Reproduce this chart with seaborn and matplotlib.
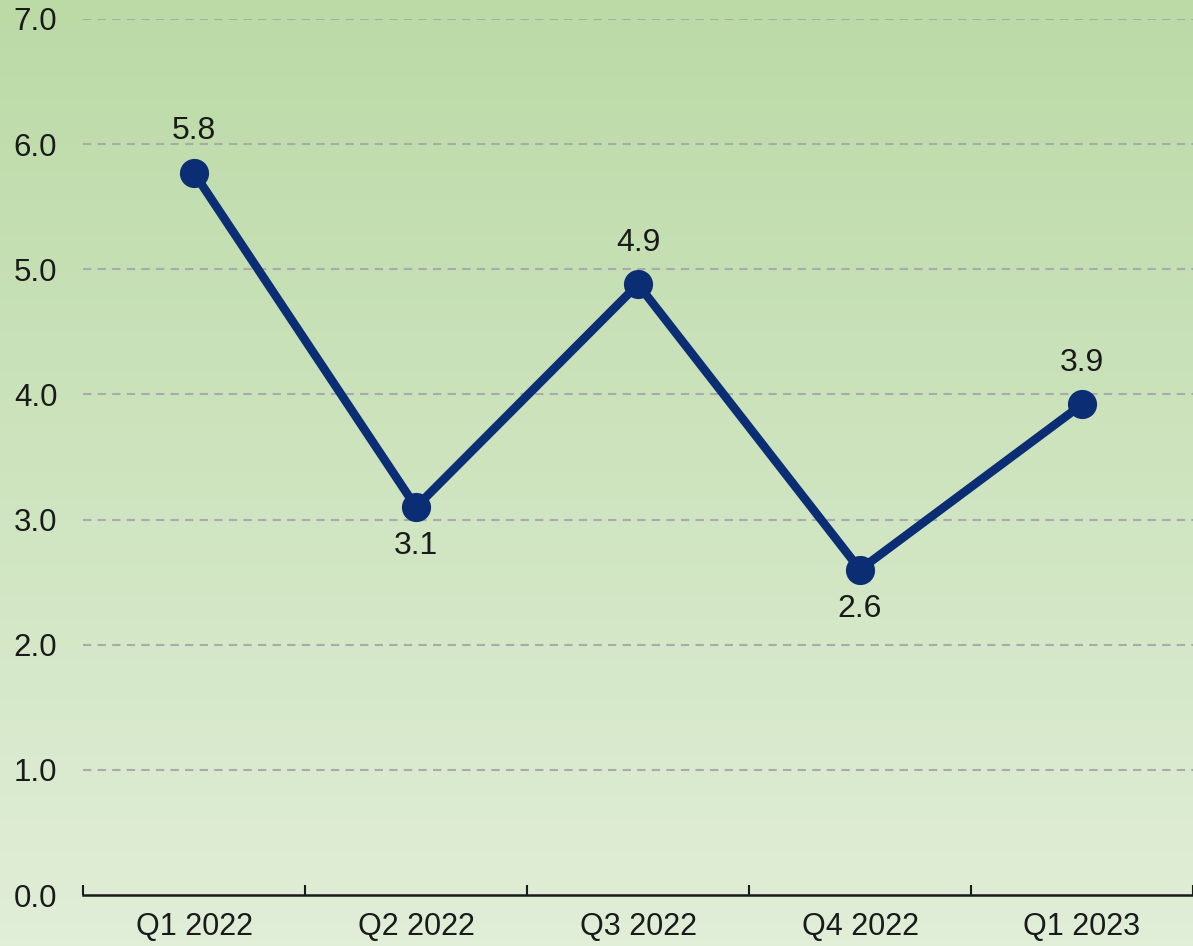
import numpy as np
import pandas as pd
import seaborn as sns
import matplotlib.pyplot as plt
from matplotlib.colors import LinearSegmentedColormap

# Dados
trimestres = ["Q1 2022", "Q2 2022", "Q3 2022", "Q4 2022", "Q1 2023"]
valores = [5.77, 3.10, 4.88, 2.60, 3.92]
rotulos = ["5.8", "3.1", "4.9", "2.6", "3.9"]
posicao_rotulo = ["acima", "abaixo", "acima", "abaixo", "acima"]
y_ticks = [0, 1, 2, 3, 4, 5, 6, 7]

df = pd.DataFrame({"trimestre": trimestres, "valor": valores})
df["x"] = range(len(df))

sns.set_style("white")
plt.rcParams["font.family"] = ["Liberation Sans", "DejaVu Sans"]

fig = plt.figure(figsize=(11.93, 9.46), dpi=100)

# Fundo em degradê (verde mais escuro em cima)
bg = fig.add_axes([0, 0, 1, 1], zorder=0)
cmap = LinearSegmentedColormap.from_list("fundo", ["#bbdaa6", "#e1eed8"])
grad = np.linspace(0, 1, 256).reshape(-1, 1)
bg.imshow(grad, aspect="auto", cmap=cmap, extent=[0, 1, 0, 1], origin="upper")
bg.axis("off")

ax = fig.add_axes([83 / 1193, 51 / 946, 1 - 83 / 1193, (895 - 19) / 946], zorder=1)
ax.patch.set_alpha(0)

sns.lineplot(data=df, x="x", y="valor", ax=ax, color="#0a2d74", linewidth=6.2,
             marker="o", markersize=21, markeredgewidth=0, zorder=3)

for i, (v, r, p) in enumerate(zip(valores, rotulos, posicao_rotulo)):
    off = 30 if p == "acima" else -28
    ax.annotate(r, (i, v), xytext=(0, off), textcoords="offset points",
                ha="center", va="center", fontsize=23, color="#1a1a1a")

ax.set_xlim(-0.5, len(trimestres) - 0.5)
ax.set_ylim(0, 7)
ax.set_yticks(y_ticks)
ax.set_yticklabels([f"{t:.1f}" for t in y_ticks])
ax.set_xticks(range(len(trimestres)))
ax.set_xticklabels(trimestres)
ax.set_xticks(np.arange(-0.5, len(trimestres), 1.0), minor=True)
ax.tick_params(axis="x", which="major", bottom=False, length=0, pad=12, labelsize=22, labelcolor="#1a1a1a")
ax.tick_params(axis="x", which="minor", bottom=True, direction="in", length=7, width=1.5, color="#1a1a1a")
ax.tick_params(axis="y", length=0, pad=18.5, labelsize=22.5, labelcolor="#1a1a1a")
ax.set_xlabel("")
ax.set_ylabel("")

for t in y_ticks[1:]:
    ax.axhline(t, color="#aaaaaa", linestyle=(0, (4, 3)), linewidth=1.5, zorder=1)

for s in ["top", "right", "left"]:
    ax.spines[s].set_visible(False)
ax.spines["bottom"].set_color("#1a1a1a")
ax.spines["bottom"].set_linewidth(1.8)

fig.savefig("out.png", dpi=100)
